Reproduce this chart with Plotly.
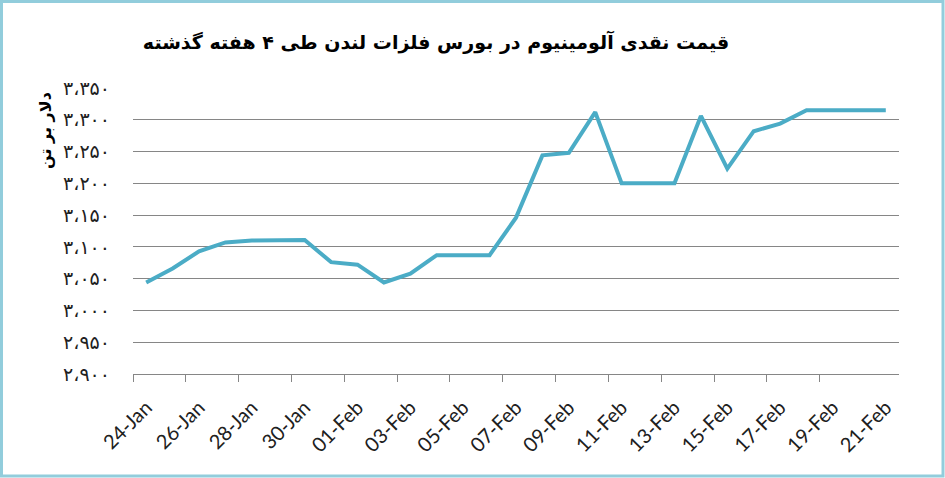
import plotly.graph_objects as go

# daily cash price, 24-Jan .. 21-Feb
dates = ['24-Jan', '25-Jan', '26-Jan', '27-Jan', '28-Jan', '29-Jan', '30-Jan', '31-Jan',
         '01-Feb', '02-Feb', '03-Feb', '04-Feb', '05-Feb', '06-Feb', '07-Feb', '08-Feb',
         '09-Feb', '10-Feb', '11-Feb', '12-Feb', '13-Feb', '14-Feb', '15-Feb', '16-Feb',
         '17-Feb', '18-Feb', '19-Feb', '20-Feb', '21-Feb']
price = [3044, 3066, 3093, 3107, 3110, 3111, 3111, 3076, 3072, 3044, 3058, 3087,
         3087, 3087, 3146, 3244, 3248, 3312, 3200, 3200, 3200, 3306, 3223, 3282,
         3294, 3315, 3315, 3315, 3315]

y_ticks = [2900, 2950, 3000, 3050, 3100, 3150, 3200, 3250, 3300, 3350]
y_labels = ['۲،۹۰۰', '۲،۹۵۰', '۳،۰۰۰', '۳،۰۵۰', '۳،۱۰۰',
            '۳،۱۵۰', '۳،۲۰۰', '۳،۲۵۰', '۳،۳۰۰', '۳،۳۵۰']

title = 'قیمت نقدی آلومینیوم در بورس فلزات لندن طی ۴ هفته گذشته'
y_title = 'دلار بر تن'

W, H = 945, 478
L, R, T, B = 133, 46, 88, 104

idx = list(range(len(dates)))

fig = go.Figure(
    go.Scatter(
        x=idx,
        y=price,
        mode='lines',
        line=dict(color='#4BACC6', width=4),
        hoverinfo='skip'
    )
)

fig.update_xaxes(
    range=[-0.5, len(dates) - 0.5],
    tickvals=idx[::2],
    ticktext=dates[::2],
    tickangle=-45,
    ticks='',
    ticklabelstandoff=13,
    showgrid=False,
    zeroline=False,
    showline=True,
    linecolor='#868686',
    linewidth=1,
    tickfont=dict(family='Lato', size=20, color='#202020'),
    minor=dict(
        tickvals=[i - 0.5 for i in idx[::2]][:-1],
        ticks='outside',
        ticklen=7,
        tickcolor='#868686',
        tickwidth=1,
        showgrid=False
    )
)

fig.update_yaxes(
    range=[2900, 3350],
    tickvals=y_ticks,
    ticktext=y_labels,
    showgrid=True,
    gridcolor='#868686',
    gridwidth=1,
    zeroline=False,
    showline=False,
    ticks='',
    ticklabelstandoff=22,
    tickfont=dict(family='DejaVu Sans', size=19, color='#202020')
)

pw = W - L - R
ph = H - T - B


def px_x(p):
    return (p - L) / pw


def px_y(p):
    return (H - B - p) / ph


fig.add_shape(
    type='rect', xref='paper', yref='paper',
    x0=px_x(1.5), x1=px_x(W - 2), y0=px_y(H - 2), y1=px_y(1.5),
    line=dict(color='#92CDDC', width=3)
)

fig.add_annotation(
    text='<b>' + y_title + '</b>', textangle=-90,
    xref='paper', yref='paper',
    x=px_x(45), y=px_y(131),
    xanchor='center', yanchor='middle',
    showarrow=False,
    font=dict(family='DejaVu Sans', size=16, color='black')
)

fig.update_layout(
    width=W,
    height=H,
    margin=dict(l=L, r=R, t=T, b=B),
    paper_bgcolor='white',
    plot_bgcolor='white',
    showlegend=False,
    title=dict(
        text='<b>' + title + '</b>',
        x=436 / W,
        xanchor='center',
        y=1 - 42 / H,
        yanchor='middle',
        font=dict(family='DejaVu Sans', size=19, color='black')
    )
)

fig.write_html('out.html', config={'displayModeBar': False},
               post_script="document.body.style.margin='0';")
